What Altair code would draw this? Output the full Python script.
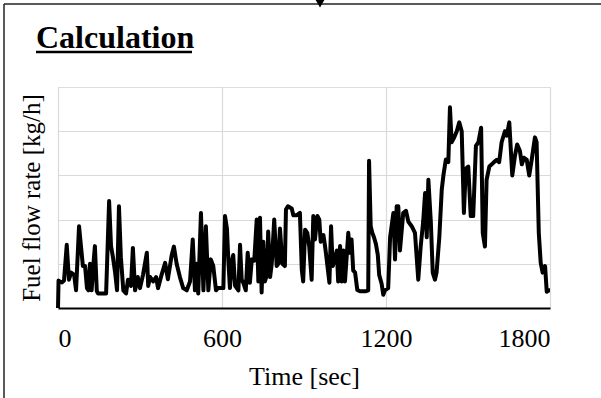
import altair as alt
import pandas as pd

time_sec = [0, 2, 7, 15, 22, 32, 40, 48, 59, 66, 77, 84, 91, 99, 106, 111, 117, 123, 129, 135,
            142, 146, 154, 165, 176, 187, 194, 201, 209, 216, 223, 230, 239, 249, 256, 267, 274, 282, 292, 300,
            311, 325, 330, 337, 348, 359, 366, 379, 392, 402, 416, 424, 434, 446, 458, 471, 483, 493, 501, 507,
            513, 523, 532, 541, 550, 559, 568, 578, 585, 596, 605, 611, 618, 623, 629, 637, 641, 648, 660, 666,
            672, 678, 687, 694, 702, 709, 718, 727, 733, 739, 745, 751, 757, 764, 769, 776, 782, 791, 800, 806,
            812, 821, 830, 834, 841, 855, 861, 874, 885, 892, 897, 904, 912, 919, 928, 934, 940, 949, 956, 961,
            971, 977, 983, 993, 999, 1005, 1013, 1020, 1025, 1032, 1038, 1044, 1050, 1062, 1068, 1074, 1080, 1087, 1095, 1105,
            1116, 1127, 1135, 1138, 1144, 1150, 1156, 1163, 1170, 1175, 1184, 1190, 1196, 1208, 1215, 1227, 1233, 1239, 1245, 1251,
            1263, 1273, 1282, 1294, 1306, 1318, 1327, 1336, 1343, 1349, 1355, 1364, 1371, 1379, 1385, 1395, 1404, 1410, 1419, 1428,
            1434, 1440, 1449, 1459, 1468, 1477, 1485, 1492, 1501, 1510, 1519, 1529, 1538, 1548, 1554, 1562, 1568, 1578, 1587, 1595,
            1605, 1614, 1623, 1635, 1642, 1651, 1662, 1672, 1680, 1690, 1697, 1705, 1715, 1724, 1733, 1745, 1751, 1759, 1766, 1773,
            1782, 1788, 1797, 1800]

fuel_rate = [0.0, 0.62, 0.6, 0.58, 0.62, 1.43, 0.64, 0.8, 0.75, 0.4, 1.85, 1.4, 0.95, 0.95, 0.45, 0.4, 1.0, 0.4, 0.95, 1.4,
             0.38, 0.33, 0.33, 0.33, 0.33, 2.42, 1.4, 1.15, 0.8, 0.4, 2.3, 1.15, 0.4, 0.33, 0.64, 0.5, 1.36, 0.4, 0.7, 0.45,
             0.75, 1.25, 0.5, 0.7, 0.6, 0.7, 0.45, 0.75, 1.02, 0.65, 1.2, 1.39, 1.0, 0.7, 0.45, 0.4, 0.6, 1.55, 0.4, 1.0,
             0.33, 2.15, 0.4, 1.85, 0.4, 1.1, 0.95, 0.4, 0.45, 0.45, 0.45, 2.08, 1.8, 1.1, 0.45, 1.1, 1.2, 0.5, 0.4, 1.43,
             0.64, 0.57, 0.4, 1.25, 0.57, 1.1, 1.07, 2.0, 0.6, 2.04, 0.35, 1.5, 0.6, 0.75, 1.73, 0.7, 1.0, 2.0, 0.95, 1.0,
             1.8, 1.0, 0.95, 2.23, 2.3, 2.25, 2.1, 2.1, 2.15, 0.86, 0.6, 1.77, 1.7, 1.4, 0.64, 2.08, 1.55, 2.08, 2.0, 1.5,
             1.65, 1.4, 1.1, 0.57, 1.85, 0.95, 1.1, 1.3, 0.6, 1.4, 0.6, 1.3, 0.6, 1.7, 1.25, 1.55, 0.85, 0.8, 0.41, 0.38,
             0.38, 0.38, 0.4, 3.33, 1.85, 1.7, 1.6, 1.45, 1.2, 0.75, 0.55, 0.3, 0.4, 0.45, 1.6, 2.15, 1.1, 2.3, 2.3, 1.3,
             2.15, 2.2, 1.95, 1.85, 1.7, 0.64, 1.4, 1.95, 2.6, 1.6, 2.9, 1.95, 0.8, 0.64, 0.8, 1.6, 2.68, 3.0, 3.36, 3.3,
             4.54, 3.75, 3.85, 4.0, 4.2, 4.0, 2.15, 3.15, 3.2, 2.08, 2.08, 3.67, 3.75, 4.08, 1.7, 1.39, 2.9, 3.2, 3.25, 3.3,
             3.35, 3.3, 3.75, 4.0, 3.9, 4.2, 3.0, 3.45, 3.7, 3.55, 3.25, 3.4, 3.35, 3.0, 3.35, 3.86, 3.75, 1.7, 1.02, 0.8,
             0.95, 0.37, 0.4, 0.4]

x_ticks = [0, 600, 1200, 1800]
y_grid = [1, 2, 3, 4]

FONT = "Liberation Serif"

df = pd.DataFrame({"t": time_sec, "fuel": fuel_rate})
one = pd.DataFrame({"k": [0]})

line = alt.Chart(df).mark_line(color="black", strokeWidth=4, strokeJoin="round").encode(
    x=alt.X("t:Q", scale=alt.Scale(domain=[0, 1800], nice=False),
            axis=alt.Axis(values=x_ticks, format="d", title="Time [sec]", grid=True, gridColor="#d9d9d9",
                          gridWidth=1.2, ticks=False, domainColor="black", domainWidth=2,
                          labelFont=FONT, labelFontSize=26, labelColor="black", labelPadding=17,
                          titleFont=FONT, titleFontSize=26, titleFontWeight="normal",
                          titleColor="black", titlePadding=12)),
    y=alt.Y("fuel:Q", scale=alt.Scale(domain=[0, 5], nice=False),
            axis=alt.Axis(values=y_grid, title="Fuel flow rate [kg/h]", grid=True, gridColor="#d9d9d9",
                          gridWidth=1.2, ticks=False, labels=False, domain=False,
                          titleFont=FONT, titleFontSize=25, titleFontWeight="normal",
                          titleColor="black", titlePadding=14)),
)

# outer frame
frame_left = alt.Chart(one).mark_rule(color="#222", strokeWidth=1.5).encode(
    x=alt.value(-54), y=alt.value(-83), y2=alt.value(311))
frame_top = alt.Chart(one).mark_rule(color="#222", strokeWidth=1.5).encode(
    x=alt.value(-54), x2=alt.value(543), y=alt.value(-83))
arrow = alt.Chart(one).mark_point(shape="triangle-down", filled=True, color="black", size=110, opacity=1).encode(
    x=alt.value(262), y=alt.value(-84))

title = alt.Chart(one).mark_text(text="Calculation", font="Liberation Serif, Times New Roman, serif",
                                  fontSize=32, fontWeight="bold",
                                  align="left", baseline="alphabetic", color="black").encode(
    x=alt.value(-22), y=alt.value(-39))
underline = alt.Chart(one).mark_rule(color="black", strokeWidth=2.5).encode(
    x=alt.value(-22), x2=alt.value(134), y=alt.value(-35))

chart = alt.layer(line, frame_left, frame_top, arrow, title, underline).properties(
    width=492, height=221,
    autosize=alt.AutoSizeParams(type="none"),
    padding={"left": 58, "top": 87, "right": 51, "bottom": 90},
).configure_view(stroke="#333", strokeWidth=1.3).configure(background="white")

chart.save("out.html", embed_options={"renderer": "svg", "actions": False})
